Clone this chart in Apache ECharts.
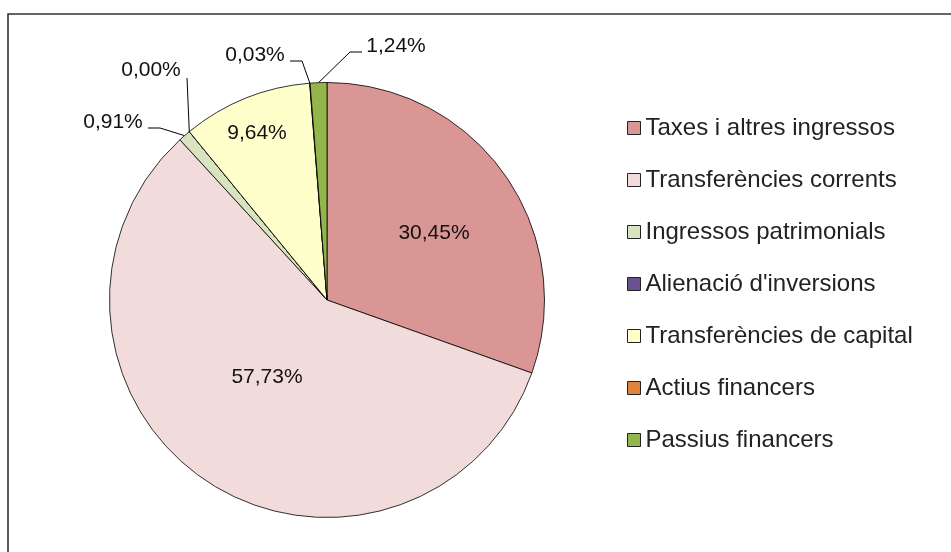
<!DOCTYPE html>
<html>
<head>
<meta charset="utf-8">
<script src="https://cdn.jsdelivr.net/npm/echarts@6/dist/echarts.min.js"></script>
<style>
  html, body { margin: 0; padding: 0; background: #fff; }
  #main { width: 951px; height: 552px; }
</style>
</head>
<body>
<div id="main"></div>
<script>
const categories = [
  "Taxes i altres ingressos",
  "Transferències corrents",
  "Ingressos patrimonials",
  "Alienació d'inversions",
  "Transferències de capital",
  "Actius financers",
  "Passius financers",
];
const values = [30.45, 57.73, 0.91, 0.0, 9.64, 0.03, 1.24];
const colors = ["#d99694", "#f2dcdb", "#d7e4bd", "#6b5190", "#ffffcc", "#e0843c", "#93b64c"];
const insideLabel = [true, true, false, false, true, false, false];

// where each label text sits (centre), and bends of the leader lines
const labelSpots = [[434, 233], [267, 377], [113, 122], [151, 70], [257, 133], [255, 55], [396, 46]];
const leaderBends = {
  2: [[160, 128], [148, 128]],
  3: [[187, 78]],
  5: [[302, 61], [290, 61]],
  6: [[350, 52], [362, 52]],
};

const fmt = v => v.toFixed(2).replace(".", ",") + "%";
const font = "'Liberation Sans', Arial, Helvetica, sans-serif";

const chart = echarts.init(document.getElementById("main"), null, { renderer: "canvas" });

chart.setOption({
  animation: false,
  color: colors,
  graphic: [
    {
      type: "rect",
      shape: { x: 8, y: 14, width: 1200, height: 800 },
      style: { fill: "none", stroke: "#333", lineWidth: 1.6 },
      silent: true,
    },
  ],
  legend: {
    orient: "vertical",
    left: 627,
    top: 116,
    padding: 0,
    itemWidth: 13,
    itemHeight: 13,
    itemGap: 28,
    icon: "rect",
    itemStyle: { borderColor: "#222", borderWidth: 1 },
    textStyle: { fontFamily: font, fontSize: 24, color: "#222", lineHeight: 24 },
    data: categories,
  },
  series: [
    {
      type: "pie",
      center: [327, 300],
      radius: 217.5,
      startAngle: 90,
      clockwise: true,
      avoidLabelOverlap: false,
      itemStyle: { borderColor: "#000", borderWidth: 0.8 },
      emphasis: { disabled: true },
      labelLine: { show: true, lineStyle: { color: "#000", width: 1 }, smooth: false },
      label: { fontFamily: font, fontSize: 21, color: "#111" },
      data: categories.map((name, i) => ({
        name,
        value: values[i],
        label: {
          show: true,
          position: insideLabel[i] ? "inside" : "outside",
          formatter: fmt(values[i]),
        },
        labelLine: { show: !insideLabel[i] },
      })),
      labelLayout: params => {
        const i = params.dataIndex;
        const spot = labelSpots[i];
        const out = { x: spot[0], y: spot[1], align: "center", verticalAlign: "middle" };
        if (!insideLabel[i] && params.labelLinePoints) {
          out.labelLinePoints = [params.labelLinePoints[0]].concat(leaderBends[i]);
        }
        return out;
      },
    },
  ],
});
</script>
</body>
</html>
